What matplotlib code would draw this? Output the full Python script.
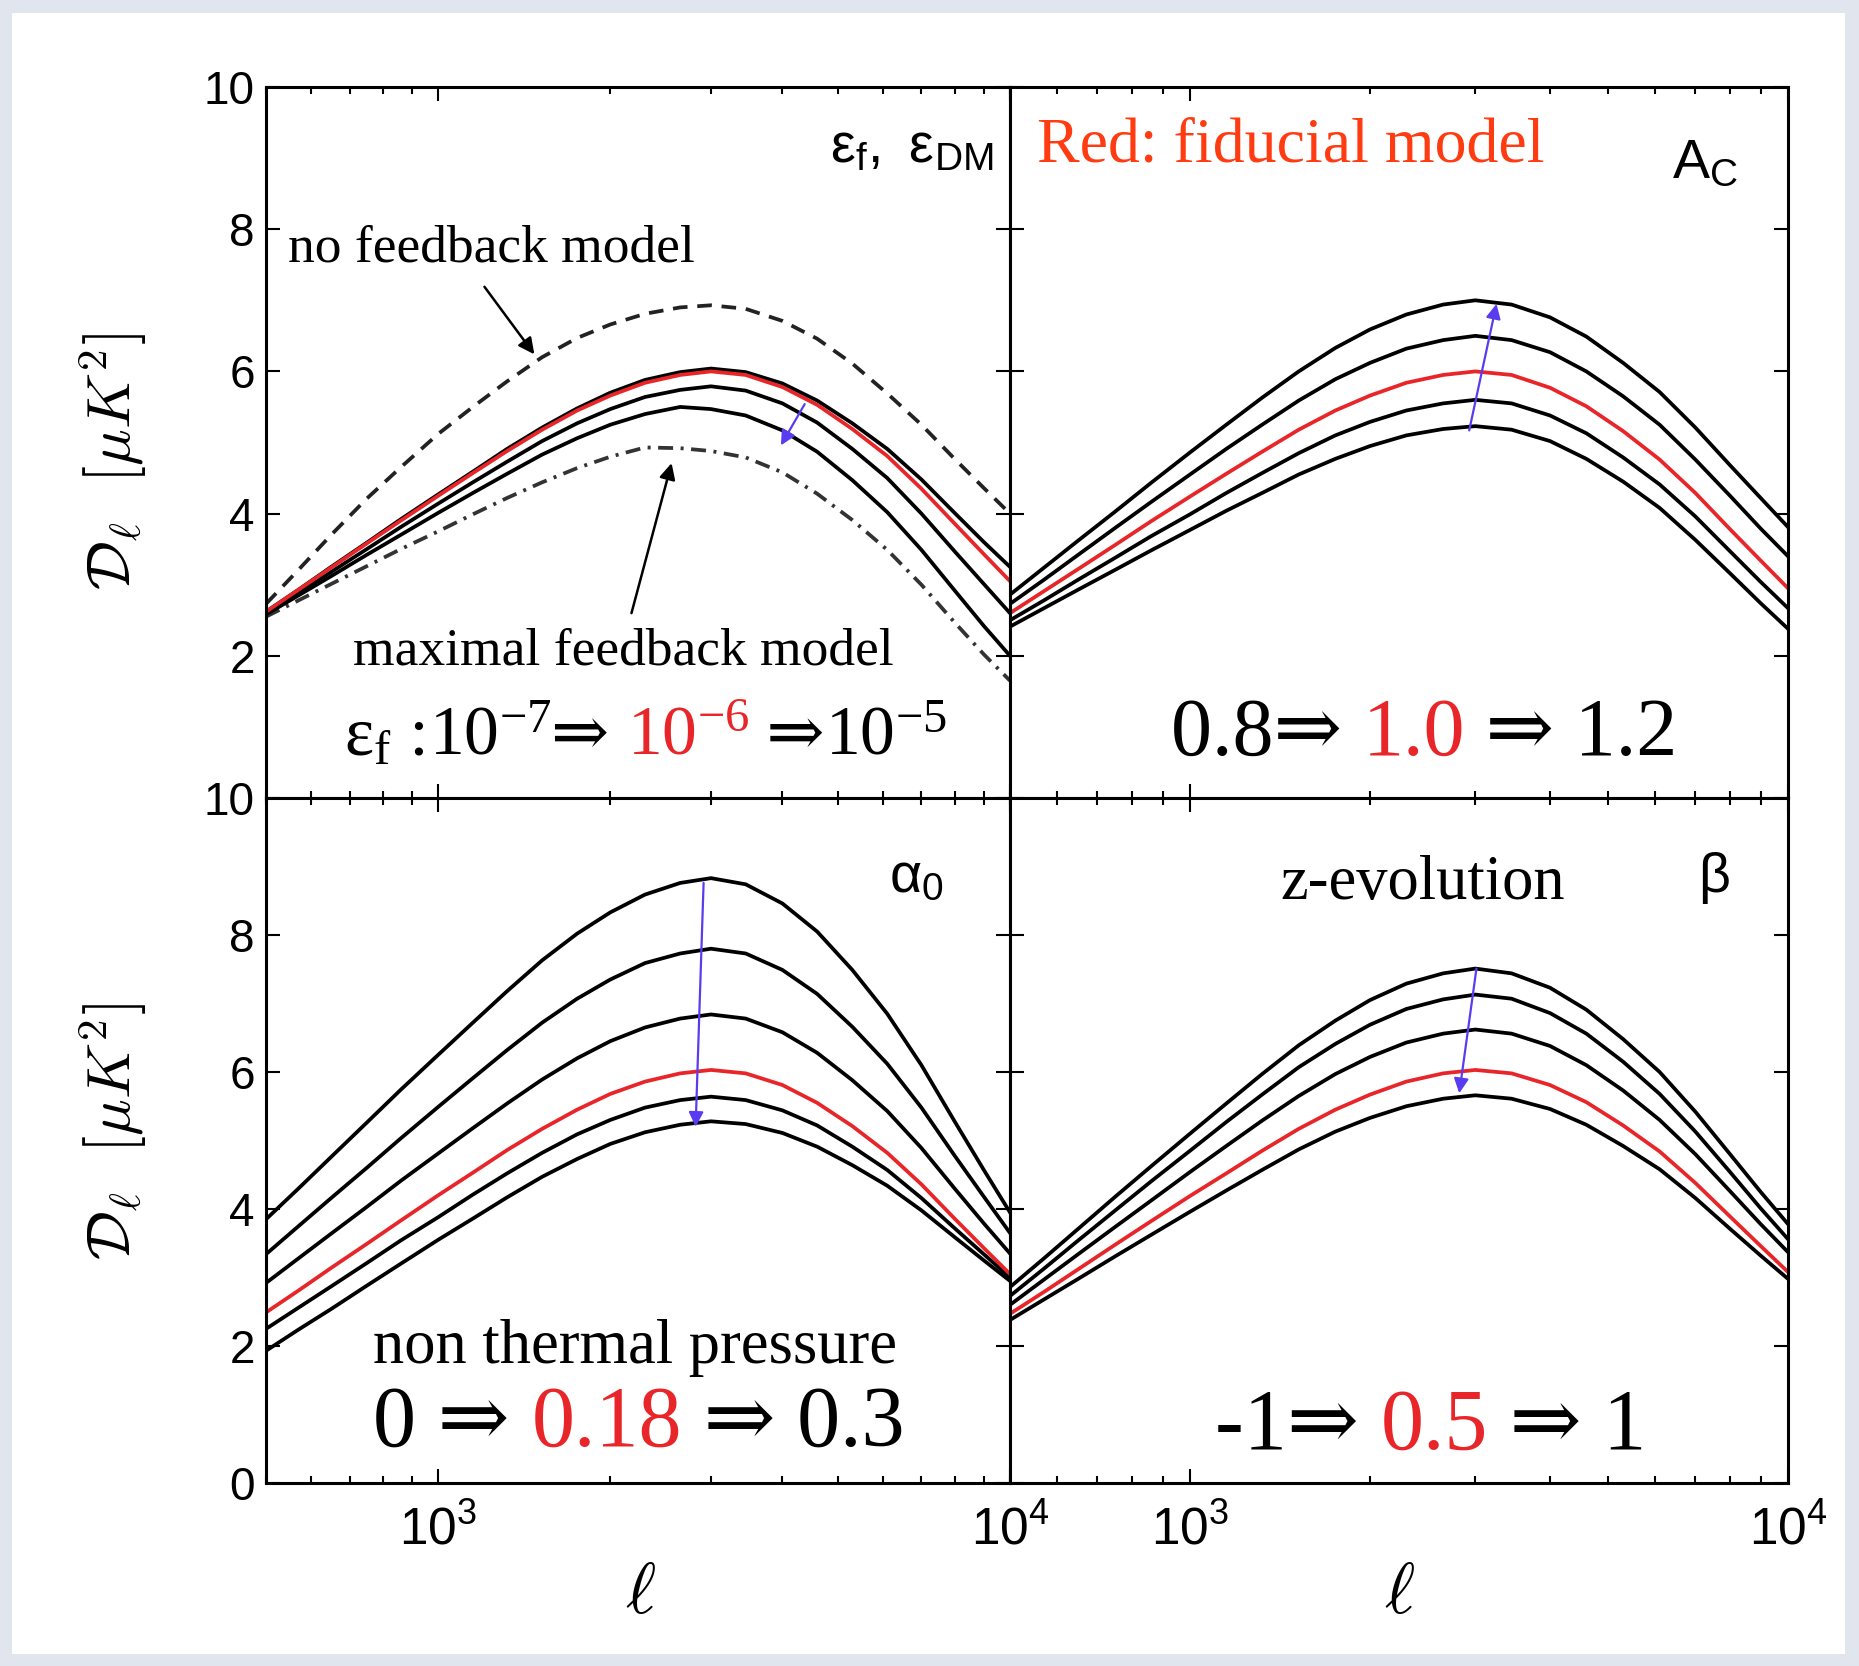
import matplotlib
matplotlib.use('Agg')
import matplotlib.pyplot as plt
import matplotlib.transforms as mtransforms
from matplotlib.patches import Rectangle

plt.rcParams['font.family'] = ['Liberation Sans', 'DejaVu Sans']
plt.rcParams['mathtext.fontset'] = 'cm'

# multipole grid the curves were read at
ell = [500, 570, 650, 750, 860, 1000, 1150, 1320, 1520, 1750, 2000, 2300, 2650, 3000,
       3450, 4000, 4600, 5300, 6100, 7000, 8000, 9000, 10000]

# top left: eps_f, eps_DM
tl_nofb = [2.73, 3.21, 3.70, 4.21, 4.65, 5.12, 5.50, 5.86, 6.20, 6.47, 6.66, 6.81, 6.90, 6.93,
           6.88, 6.71, 6.46, 6.11, 5.69, 5.25, 4.77, 4.36, 4.00]
tl_a = [2.62, 2.93, 3.25, 3.59, 3.92, 4.27, 4.59, 4.91, 5.21, 5.48, 5.70, 5.88, 5.99, 6.04,
        5.99, 5.83, 5.59, 5.27, 4.91, 4.48, 4.01, 3.60, 3.25]
tl_red = [2.62, 2.93, 3.24, 3.58, 3.90, 4.25, 4.57, 4.88, 5.18, 5.45, 5.66, 5.84, 5.95, 6.00,
          5.95, 5.78, 5.53, 5.19, 4.81, 4.35, 3.86, 3.43, 3.05]
tl_b = [2.60, 2.89, 3.18, 3.50, 3.81, 4.14, 4.44, 4.73, 5.02, 5.27, 5.47, 5.64, 5.74, 5.79,
        5.73, 5.55, 5.28, 4.91, 4.50, 4.00, 3.47, 3.01, 2.60]
tl_c = [2.58, 2.85, 3.12, 3.42, 3.70, 4.01, 4.29, 4.56, 4.83, 5.06, 5.25, 5.40, 5.50, 5.47,
        5.38, 5.17, 4.87, 4.47, 4.02, 3.49, 2.92, 2.42, 2.00]
tl_max = [2.55, 2.78, 3.01, 3.26, 3.50, 3.75, 3.99, 4.22, 4.44, 4.64, 4.80, 4.93, 4.92, 4.88,
          4.79, 4.58, 4.28, 3.91, 3.49, 3.00, 2.47, 2.02, 1.65]

# top right: A_C
tr_c1 = [2.86, 3.24, 3.62, 4.03, 4.43, 4.86, 5.25, 5.63, 6.00, 6.33, 6.59, 6.80, 6.94, 7.00,
         6.94, 6.76, 6.49, 6.12, 5.71, 5.21, 4.68, 4.22, 3.81]
tr_c2 = [2.73, 3.07, 3.42, 3.80, 4.16, 4.55, 4.91, 5.25, 5.59, 5.89, 6.12, 6.32, 6.44, 6.50,
         6.44, 6.27, 6.00, 5.65, 5.25, 4.76, 4.25, 3.79, 3.40]
tr_red = [2.60, 2.91, 3.22, 3.56, 3.89, 4.24, 4.56, 4.87, 5.18, 5.45, 5.66, 5.84, 5.95, 6.00,
          5.95, 5.77, 5.51, 5.16, 4.76, 4.29, 3.78, 3.34, 2.95]
tr_c4 = [2.50, 2.78, 3.07, 3.38, 3.68, 3.99, 4.29, 4.57, 4.85, 5.10, 5.29, 5.45, 5.55, 5.60,
         5.55, 5.38, 5.13, 4.79, 4.41, 3.96, 3.47, 3.04, 2.67]
tr_c5 = [2.41, 2.67, 2.93, 3.21, 3.48, 3.77, 4.04, 4.29, 4.55, 4.77, 4.95, 5.10, 5.19, 5.23,
         5.18, 5.02, 4.77, 4.45, 4.08, 3.63, 3.16, 2.74, 2.38]

# bottom left: alpha_0
bl_c1 = [3.85, 4.30, 4.76, 5.26, 5.74, 6.25, 6.72, 7.18, 7.63, 8.02, 8.33, 8.59, 8.76, 8.83,
         8.74, 8.46, 8.05, 7.49, 6.85, 6.10, 5.28, 4.57, 3.95]
bl_c2 = [3.34, 3.75, 4.16, 4.60, 5.03, 5.49, 5.91, 6.32, 6.72, 7.07, 7.35, 7.59, 7.73, 7.80,
         7.73, 7.49, 7.14, 6.66, 6.12, 5.48, 4.78, 4.18, 3.65]
bl_c3 = [2.92, 3.28, 3.64, 4.03, 4.41, 4.81, 5.18, 5.54, 5.89, 6.20, 6.45, 6.65, 6.78, 6.84,
         6.78, 6.58, 6.28, 5.88, 5.43, 4.89, 4.30, 3.79, 3.35]
bl_red = [2.49, 2.81, 3.14, 3.49, 3.83, 4.20, 4.53, 4.86, 5.17, 5.45, 5.68, 5.86, 5.98, 6.03,
          5.98, 5.81, 5.55, 5.21, 4.82, 4.36, 3.86, 3.43, 3.05]
bl_c5 = [2.25, 2.56, 2.87, 3.21, 3.54, 3.88, 4.21, 4.52, 4.82, 5.09, 5.30, 5.48, 5.59, 5.64,
         5.59, 5.44, 5.22, 4.91, 4.57, 4.16, 3.72, 3.34, 3.00]
bl_c6 = [1.93, 2.24, 2.54, 2.88, 3.20, 3.55, 3.86, 4.17, 4.47, 4.73, 4.95, 5.12, 5.23, 5.28,
         5.24, 5.11, 4.91, 4.64, 4.34, 3.98, 3.59, 3.25, 2.95]

# bottom right: beta
br_c1 = [2.86, 3.28, 3.71, 4.18, 4.62, 5.10, 5.54, 5.97, 6.39, 6.75, 7.05, 7.29, 7.44, 7.51,
         7.44, 7.23, 6.91, 6.48, 6.00, 5.42, 4.80, 4.25, 3.78]
br_c2 = [2.73, 3.13, 3.54, 3.98, 4.40, 4.85, 5.27, 5.67, 6.07, 6.41, 6.69, 6.92, 7.06, 7.13,
         7.07, 6.86, 6.56, 6.15, 5.68, 5.13, 4.54, 4.01, 3.56]
br_c3 = [2.60, 2.97, 3.34, 3.74, 4.12, 4.54, 4.92, 5.29, 5.65, 5.97, 6.22, 6.43, 6.56, 6.62,
         6.56, 6.38, 6.10, 5.73, 5.30, 4.80, 4.26, 3.78, 3.37]
br_red = [2.47, 2.79, 3.12, 3.48, 3.82, 4.19, 4.52, 4.85, 5.17, 5.45, 5.67, 5.86, 5.98, 6.03,
          5.98, 5.81, 5.56, 5.22, 4.84, 4.38, 3.89, 3.46, 3.08]
br_c5 = [2.38, 2.68, 2.98, 3.31, 3.62, 3.96, 4.27, 4.57, 4.87, 5.13, 5.33, 5.50, 5.61, 5.66,
         5.61, 5.46, 5.23, 4.92, 4.58, 4.16, 3.71, 3.32, 2.98]

# blue arrows (tail ell, tail D, head ell, head D)
arr_tl = (4375, 5.54, 3975, 4.96)
arr_tr = (2930, 5.17, 3255, 6.95)
arr_bl = (2912, 8.76, 2820, 5.20)
arr_br = (3013, 7.51, 2820, 5.69)

RED = '#e8262a'
BLUE = '#5a3cf0'
SERIF = ['Liberation Serif', 'DejaVu Serif', 'DejaVu Sans']
LW = 2.7
W, H = 1859, 1666

fig = plt.figure(figsize=(W / 100, H / 100), dpi=100, facecolor='#e1e6ee')
fig.patches.append(Rectangle((12 / W, 12 / H), (1845 - 12) / W, (1655 - 14) / H,
                             transform=fig.transFigure, facecolor='white',
                             edgecolor='none', zorder=-10))


def pos(x0, y0, x1, y1):
    return [x0 / W, 1 - y1 / H, (x1 - x0) / W, (y1 - y0) / H]


def setup(ax, left, bottom, top_row):
    ax.set_xscale('log')
    ax.set_xlim(500, 10000)
    ax.set_ylim(0, 10)
    ax.set_xticks([1000, 10000])
    if top_row:
        ax.set_yticks([2, 4, 6, 8, 10])
    else:
        ax.set_yticks([0, 2, 4, 6, 8, 10])
    ax.tick_params(which='both', direction='in', top=True, right=True,
                   labelleft=left, labelbottom=bottom, labelsize=33, width=1.5)
    ax.tick_params(which='major', length=10, pad=8)
    ax.tick_params(which='minor', length=5)
    ax.tick_params(axis='x', pad=16, labelsize=37)
    for sp in ax.spines.values():
        sp.set_linewidth(2.2)


def chain_text(ax, x, y, parts, size):
    renderer = fig.canvas.get_renderer()
    tr = ax.transAxes
    for s, c in parts:
        t = ax.text(x, y, s, color=c, transform=tr, fontsize=size,
                    family=SERIF, va='baseline', ha='left')
        t.draw(renderer)
        ex = t.get_window_extent(renderer)
        tr = mtransforms.offset_copy(t.get_transform(), x=ex.width, units='dots')


def blue_arrow(ax, a):
    ax.annotate('', xy=(a[2], a[3]), xytext=(a[0], a[1]),
                arrowprops=dict(arrowstyle='-|>', color=BLUE, lw=1.6,
                                mutation_scale=22, shrinkA=0, shrinkB=0))


ax1 = fig.add_axes(pos(266, 87, 1010, 798))
ax2 = fig.add_axes(pos(1010, 87, 1788, 798))
ax3 = fig.add_axes(pos(266, 798, 1010, 1483))
ax4 = fig.add_axes(pos(1010, 798, 1788, 1483))
setup(ax1, True, False, True)
setup(ax2, False, False, True)
setup(ax3, True, True, False)
setup(ax4, False, True, False)

# top left
ax1.plot(ell, tl_nofb, color='#222222', lw=LW, ls=(0, (3.9, 2.6)))
ax1.plot(ell, tl_max, color='#333333', lw=LW, ls=(0, (4, 2, 0.8, 2)))
for y in [tl_a, tl_b, tl_c]:
    ax1.plot(ell, y, color='k', lw=LW)
ax1.plot(ell, tl_red, color=RED, lw=LW)
blue_arrow(ax1, arr_tl)
ax1.annotate('', xy=(1473, 6.24), xytext=(1205, 7.19),
             arrowprops=dict(arrowstyle='-|>', color='k', lw=1.8, mutation_scale=24,
                             shrinkA=0, shrinkB=0))
ax1.annotate('', xy=(2560, 4.71), xytext=(2178, 2.60),
             arrowprops=dict(arrowstyle='-|>', color='k', lw=1.8, mutation_scale=24,
                             shrinkA=0, shrinkB=0))
ax1.text(0.978, 0.894, r'$\mathregular{ε_{f},\ ε_{DM}}$', transform=ax1.transAxes,
         ha='right', va='baseline', fontsize=40)
ax1.text(0.030, 0.755, 'no feedback model', transform=ax1.transAxes,
         family=SERIF, fontsize=38.5, va='baseline')
ax1.text(0.117, 0.188, 'maximal feedback model', transform=ax1.transAxes,
         family=SERIF, fontsize=38.5, va='baseline')
chain_text(ax1, 0.105, 0.0605,
           [('ε', 'k'), (r'$\mathregular{_f}$', 'k'), (' :', 'k'),
            (r'$\mathregular{10^{-7}}$', 'k'), ('⇒ ', 'k'),
            (r'$\mathregular{10^{-6}}$', RED), (' ⇒', 'k'),
            (r'$\mathregular{10^{-5}}$', 'k')], 50)

# top right
for y in [tr_c1, tr_c2, tr_c4, tr_c5]:
    ax2.plot(ell, y, color='k', lw=LW)
ax2.plot(ell, tr_red, color=RED, lw=LW)
blue_arrow(ax2, arr_tr)
ax2.text(0.035, 0.895, 'Red: fiducial model', transform=ax2.transAxes,
         family=SERIF, fontsize=46, color='#ff3b12', va='baseline')
ax2.text(0.851, 0.872, r'$\mathregular{A_C}$', transform=ax2.transAxes,
         fontsize=40, va='baseline')
chain_text(ax2, 0.207, 0.0605,
           [('0.8⇒ ', 'k'), ('1.0', RED), (' ⇒ 1.2', 'k')], 59)

# bottom left
for y in [bl_c1, bl_c2, bl_c3, bl_c5, bl_c6]:
    ax3.plot(ell, y, color='k', lw=LW)
ax3.plot(ell, bl_red, color=RED, lw=LW)
blue_arrow(ax3, arr_bl)
ax3.text(0.837, 0.863, r'$\mathregular{α_0}$', transform=ax3.transAxes,
         fontsize=40, va='baseline')
ax3.text(0.144, 0.175, 'non thermal pressure', transform=ax3.transAxes,
         family=SERIF, fontsize=45, va='baseline')
chain_text(ax3, 0.144, 0.054,
           [('0 ⇒ ', 'k'), ('0.18', RED), (' ⇒ 0.3', 'k')], 62)

# bottom right
for y in [br_c1, br_c2, br_c3, br_c5]:
    ax4.plot(ell, y, color='k', lw=LW)
ax4.plot(ell, br_red, color=RED, lw=LW)
blue_arrow(ax4, arr_br)
ax4.text(0.347, 0.853, 'z-evolution', transform=ax4.transAxes,
         family=SERIF, fontsize=45, va='baseline')
ax4.text(0.884, 0.863, 'β', transform=ax4.transAxes, fontsize=40, va='baseline')
chain_text(ax4, 0.264, 0.050,
           [('-1⇒ ', 'k'), ('0.5', RED), (' ⇒ 1', 'k')], 62)

# axis labels
ylab = r'$\mathcal{D}_\ell\ \ [\mu K^2]$'
fig.text(113 / W, 1 - 462 / H, ylab, rotation=90, ha='center', va='center', fontsize=44)
fig.text(113 / W, 1 - 1132 / H, ylab, rotation=90, ha='center', va='center', fontsize=44)
fig.text(640 / W, 1 - 1595 / H, r'$\ell$', ha='center', va='center', fontsize=52)
fig.text(1399 / W, 1 - 1595 / H, r'$\ell$', ha='center', va='center', fontsize=52)

fig.savefig('out.png', dpi=100, facecolor=fig.get_facecolor())
